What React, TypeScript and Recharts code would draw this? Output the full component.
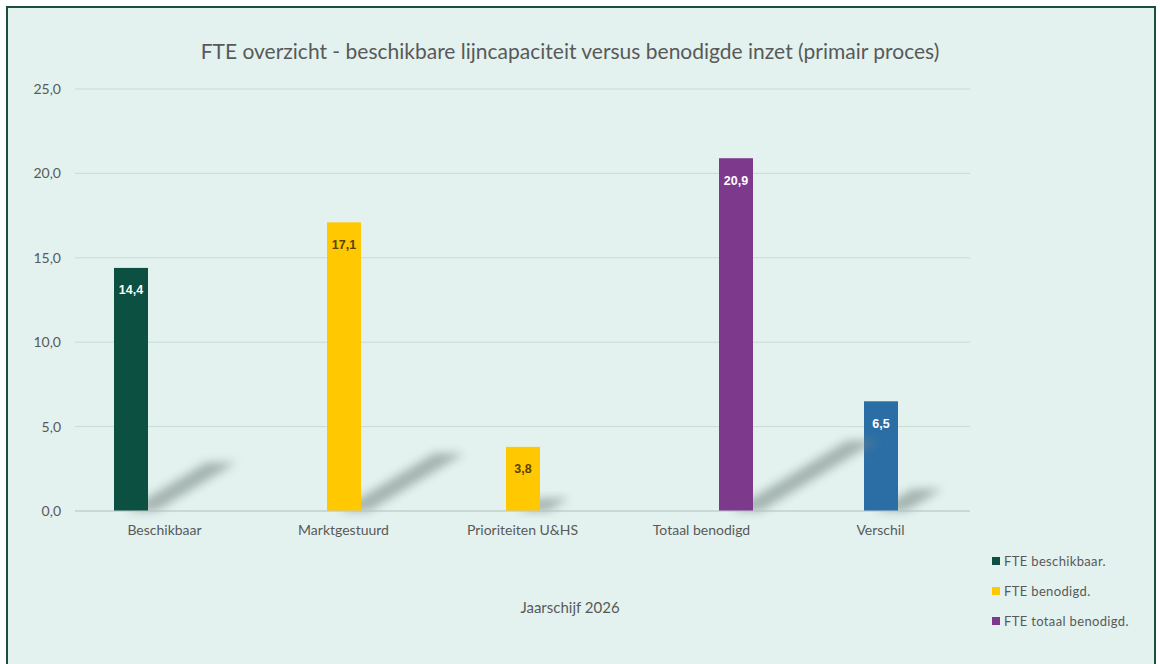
import { BarChart, Bar, XAxis, YAxis, CartesianGrid, Cell, LabelList } from "recharts";

const categories = ["Beschikbaar", "Marktgestuurd", "Prioriteiten U&HS", "Totaal benodigd", "Verschil"];
const fteBeschikbaar = [14.4, null, null, null, null];
const fteBenodigd = [null, 17.1, 3.8, null, 6.5];
const fteTotaal = [null, null, null, 20.9, null];
const yTicks = [0, 5, 10, 15, 20, 25];

const seriesNames = ["FTE beschikbaar.", "FTE benodigd.", "FTE totaal benodigd."];
const seriesColors = ["#0b5040", "#ffc800", "#7d3a8d"];
const verschilColor = "#2b6ea6";

const data = categories.map((name, i) => ({
  name,
  beschikbaar: fteBeschikbaar[i],
  benodigd: fteBenodigd[i],
  totaal: fteTotaal[i],
}));

const fmt = (v: number) => v.toFixed(1).replace(".", ",");

// bar with a soft diagonal shadow on the floor, like the office chart
const ShadowBar = (props: any) => {
  const { x, y, width, height, fill } = props;
  if (!height || height <= 0) return null;
  const bottom = y + height;
  const dx = height * 0.33;
  const dy = height * 0.2;
  const x0 = x + width - 22;
  const x1 = x + width + 8;
  const d = `M${x0},${bottom} L${x1},${bottom} L${x1 + dx},${bottom - dy} L${x0 + dx},${bottom - dy} Z`;
  return (
    <g>
      <defs>
        <filter id="barShadow" x="-50%" y="-50%" width="200%" height="200%">
          <feGaussianBlur stdDeviation="5" />
        </filter>
      </defs>
      <path d={d} fill="#7a8a85" opacity={0.6} filter="url(#barShadow)" />
      <rect x={x} y={y} width={width} height={height} fill={fill} />
    </g>
  );
};

const BarLabel = (props: any) => {
  const { x, y, width, value, dark } = props;
  if (value === null || value === undefined) return null;
  return (
    <text
      x={x + width / 2}
      y={y + 23}
      textAnchor="middle"
      dominantBaseline="middle"
      fill={dark ? "#5a4300" : "#ffffff"}
      fontSize={12.5}
      fontWeight={700}
      fontFamily="Liberation Sans, Arial, sans-serif"
    >
      {fmt(Number(value))}
    </text>
  );
};

const verschilIndex = categories.indexOf("Verschil");

export default function App() {
  return (
    <div style={{ position: "absolute", left: 0, top: 0, width: 1160, height: 664, background: "#ffffff", overflow: "hidden" }}>
      <div
        style={{
          position: "absolute",
          left: 6,
          top: 6,
          width: 1146,
          height: 680,
          background: "#e3f2ef",
          border: "2px solid #1d4d3c",
        }}
      />
      <div
        style={{
          position: "absolute",
          left: 0,
          width: 1140,
          top: 38,
          textAlign: "center",
          fontFamily: "Lato, sans-serif",
          fontSize: 21,
          color: "#595959",
        }}
      >
        FTE overzicht - beschikbare lijncapaciteit versus benodigde inzet (primair proces)
      </div>
      <div style={{ position: "absolute", left: 0, top: 0 }}>
        <BarChart
          width={1160}
          height={664}
          data={data}
          margin={{ top: 89, right: 190, bottom: 123, left: 0 }}
          barSize={34}
          barGap={0}
        >
          <CartesianGrid vertical={false} stroke="#c9dbd6" />
          <XAxis
            dataKey="name"
            axisLine={{ stroke: "#bccbc6" }}
            tickLine={false}
            tickMargin={8}
            tick={{ fill: "#595959", fontSize: 14, fontFamily: "Lato, sans-serif" }}
          />
          <YAxis
            width={75}
            domain={[0, 25]}
            ticks={yTicks}
            axisLine={false}
            tickLine={false}
            tickFormatter={fmt}
            tick={{ fill: "#595959", fontSize: 14, fontFamily: "Lato, sans-serif", dx: -6 }}
          />
          <Bar dataKey="beschikbaar" fill={seriesColors[0]} shape={ShadowBar} isAnimationActive={false}>
            <LabelList dataKey="beschikbaar" content={(p: any) => <BarLabel {...p} dark={false} />} />
          </Bar>
          <Bar dataKey="benodigd" fill={seriesColors[1]} shape={ShadowBar} isAnimationActive={false}>
            {data.map((d, i) => (
              <Cell key={i} fill={i === verschilIndex ? verschilColor : seriesColors[1]} />
            ))}
            <LabelList
              dataKey="benodigd"
              content={(p: any) => (
                <BarLabel {...p} dark={p.value !== fteBenodigd[verschilIndex]} />
              )}
            />
          </Bar>
          <Bar dataKey="totaal" fill={seriesColors[2]} shape={ShadowBar} isAnimationActive={false}>
            <LabelList dataKey="totaal" content={(p: any) => <BarLabel {...p} dark={false} />} />
          </Bar>
        </BarChart>
      </div>
      <div
        style={{
          position: "absolute",
          left: 500,
          width: 140,
          top: 598,
          textAlign: "center",
          fontFamily: "Lato, sans-serif",
          fontSize: 15,
          color: "#595959",
        }}
      >
        Jaarschijf 2026
      </div>
      <div style={{ position: "absolute", left: 992, top: 553, fontFamily: "Lato, sans-serif", fontSize: 13, color: "#595959" }}>
        {seriesNames.map((n, i) => (
          <div key={n} style={{ display: "flex", alignItems: "center", height: 30, marginTop: i === 0 ? -7 : 0 }}>
            <span style={{ display: "inline-block", width: 8, height: 8, background: seriesColors[i], marginRight: 4 }} />
            <span style={{ letterSpacing: 0.35 }}>{n}</span>
          </div>
        ))}
      </div>
    </div>
  );
}
